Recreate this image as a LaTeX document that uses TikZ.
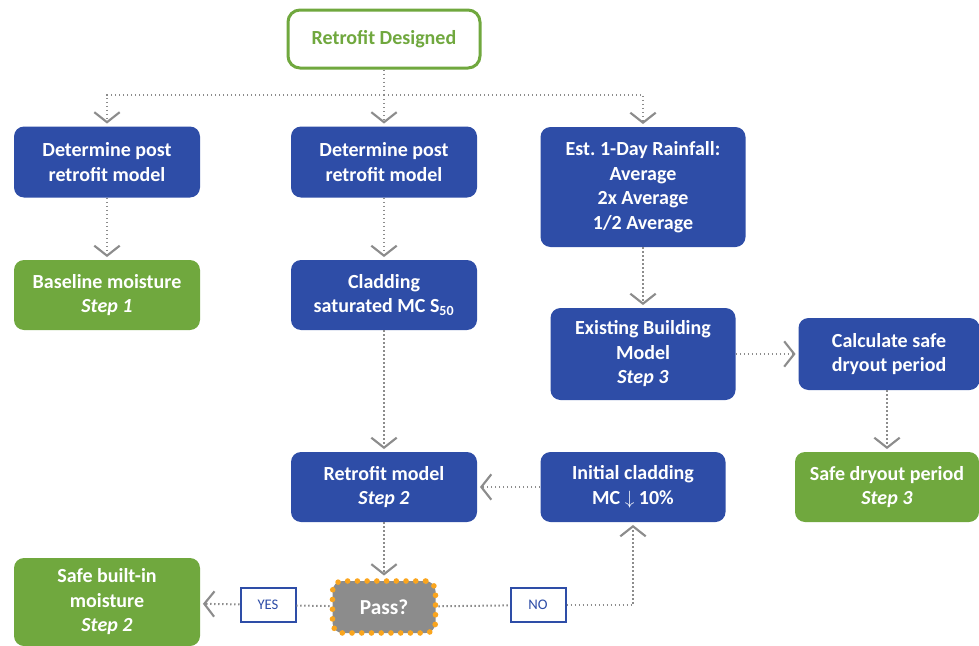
\documentclass[tikz,border=0pt]{standalone}
\usepackage{fontspec}
\setmainfont{Carlito}
\usetikzlibrary{arrows.meta}
\newcommand*{\px}{0.75pt}
\definecolor{navy}{RGB}{46,77,167}
\definecolor{leaf}{RGB}{112,168,62}
\definecolor{ash}{RGB}{140,140,140}
\definecolor{amber}{RGB}{250,165,30}
\definecolor{link}{RGB}{140,140,140}
\tikzset{
	block/.style n args={3}{
		rectangle,
		rounded corners = 10*\px,
		minimum width = #2*\px,
		minimum height = #3*\px,
		fill = #1,
		text = white,
		align = center,
		inner sep = 0pt,
		font = \fontsize{15}{18.4}\selectfont\bfseries,
		},
	tag/.style={
		rectangle,
		draw = navy,
		line width = 2*\px,
		fill = white,
		text = navy,
		minimum width = 55*\px,
		minimum height = 34*\px,
		font = \fontsize{11}{13}\selectfont,
		},
	link/.style={
		draw = link,
		line width = 1.5pt,
		dash pattern = on 1.1pt off 1.9pt,
		},
	flow/.style={
		link,
		-{Straight Barb[length=7.5pt,width=19pt,line width=1.6pt]},
		shorten > = 2pt,
		}
	}
\begin{document}
\frenchspacing
\begin{tikzpicture}[x=\px, y=-\px]
	\useasboundingbox (0,0) rectangle (979,646);
	% top of the chart
	\node (design) [block={white}{192}{58}, draw=leaf, line width=3*\px, text=leaf, rounded corners=12*\px] at (384,39) {Retrofit Designed};
	\coordinate (split) at (384,95);
	% first row
	\node (post1) [block={navy}{186}{71}] at (107,162) {Determine post\\retrofit model};
	\node (post2) [block={navy}{186}{71}] at (384,162) {Determine post\\retrofit model};
	\node (rain)  [block={navy}{205}{120}] at (643,187) {Est. 1-Day Rainfall:\\Average\\2x Average\\1/2 Average};
	% second row
	\node (base)  [block={leaf}{186}{70}] at (107,295) {Baseline moisture\\\textit{Step 1}};
	\node (clad)  [block={navy}{186}{70}] at (384,295) {Cladding\\saturated MC S\textsubscript{50}};
	\node (exist) [block={navy}{185}{92}] at (643,354) {Existing Building\\Model\\\textit{Step 3}};
	\node (calc)  [block={navy}{181}{72}] at (889,354) {Calculate safe\\dryout period};
	% third row
	\node (retro) [block={navy}{186}{70}] at (384,487) {Retrofit model\\\textit{Step 2}};
	\node (init)  [block={navy}{185}{70}] at (633,487) {Initial cladding\\MC $\downarrow$ 10\%};
	\node (dry)   [block={leaf}{184}{70}] at (887,487) {Safe dryout period\\\textit{Step 3}};
	% check row
	\node (pass)  [block={ash}{103}{52}, draw=amber, line width=4.2pt, line cap=round, dash pattern=on 0pt off 7.3pt, font=\fontsize{16}{18}\selectfont\bfseries] at (384,607) {Pass?};
	\node (yes)   [tag] at (268,605) {YES};
	\node (no)    [tag] at (538,605) {NO};
	\node (built) [block={leaf}{186}{88}] at (107,602) {Safe built-in\\moisture\\\textit{Step 2}};
	% connectors
	\draw [link] (design) -- (split);
	\draw [flow] (split) -| (post1);
	\draw [flow] (split) -- (post2);
	\draw [flow] (split) -| (rain);
	\draw [flow] (post1) -- (base);
	\draw [flow] (post2) -- (clad);
	\draw [flow] (clad)  -- (retro);
	\draw [flow] (rain)  -- (exist);
	\draw [flow] (exist) -- (calc);
	\draw [flow] (calc.south -| dry) -- (dry);
	\draw [flow] (init)  -- (retro);
	\draw [flow] (retro) -- (pass);
	\draw [link] (pass)  -- (yes);
	\draw [flow] (yes)   -- (built);
	\draw [link] (pass)  -- (no);
	\draw [flow] (no)    -| (init);
\end{tikzpicture}
\end{document}
